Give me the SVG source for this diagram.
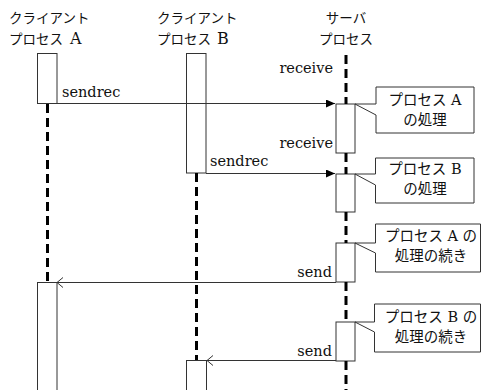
<svg xmlns="http://www.w3.org/2000/svg" width="481" height="390" viewBox="0 0 481 390">
<defs>
<style>
text{font-family:"DejaVu Serif","Noto Sans CJK JP",serif;fill:#111}
.h{font-size:13.5px}
.lat{font-size:16px}
.lbl{font-size:14.5px}
.n{font-size:14.5px}
.box{fill:none;stroke:#333;stroke-width:1}
.line{stroke:#333;stroke-width:1;fill:none}
.life{stroke:#000;stroke-width:3;stroke-dasharray:9 5;fill:none}
.note{fill:#fff;stroke:#333;stroke-width:1}
</style>
<marker id="fill" markerWidth="10" markerHeight="8" refX="9" refY="4" orient="auto" markerUnits="userSpaceOnUse">
<path d="M0,0 L9,4 L0,8 Z" fill="#000"/>
</marker>
<marker id="open" markerWidth="8" markerHeight="12" refX="7" refY="6" orient="auto" markerUnits="userSpaceOnUse">
<path d="M1,1 L7,6 L1,11" fill="none" stroke="#333" stroke-width="1"/>
</marker>
</defs>
<rect width="481" height="390" fill="#fff"/>

<g id="clientA">
<text class="h" x="9" y="23">クライアント</text>
<text class="h" x="9" y="44">プロセス<tspan class="lat" x="70">A</tspan></text>
<rect class="box" x="37.5" y="53.5" width="19.5" height="50"/>
<rect class="box" x="37.5" y="282.5" width="19.5" height="120"/>
</g>

<g id="clientB">
<text class="h" x="157" y="23">クライアント</text>
<text class="h" x="157" y="44">プロセス<tspan class="lat" x="217">B</tspan></text>
<rect class="box" x="186.5" y="53.5" width="19.5" height="119.5"/>
<rect class="box" x="186.5" y="360.5" width="20" height="40"/>
</g>

<g id="server">
<text class="h" x="346" y="23" text-anchor="middle">サーバ</text>
<text class="h" x="346" y="44" text-anchor="middle">プロセス</text>
<rect class="box" x="336" y="104" width="19" height="49"/>
<rect class="box" x="336" y="174" width="19" height="38"/>
<rect class="box" x="336" y="243" width="19" height="39"/>
<rect class="box" x="336" y="322" width="19" height="39"/>
</g>

<g id="noteA">
<path class="note" d="M376,87 H474 V133 H376 V115 L355,104 H376 Z"/>
<text class="n" x="425" y="105" text-anchor="middle">プロセス A</text>
<text class="n" x="425" y="125" text-anchor="middle">の処理</text>
</g>
<g id="noteB">
<path class="note" d="M375.5,158 H474 V203 H375.5 V185 L355,174 H375.5 Z"/>
<text class="n" x="425" y="174" text-anchor="middle">プロセス B</text>
<text class="n" x="425" y="194" text-anchor="middle">の処理</text>
</g>
<g id="noteA2">
<path class="note" d="M375.5,224 H480.5 V272 H375.5 V253 L355,243 H375.5 Z"/>
<text class="n" x="431" y="241" text-anchor="middle">プロセス A の</text>
<text class="n" x="431" y="261" text-anchor="middle">処理の続き</text>
</g>
<g id="noteB2">
<path class="note" d="M374.5,304 H480.5 V352 H374.5 V332 L355,322 H374.5 Z"/>
<text class="n" x="431" y="322" text-anchor="middle">プロセス B の</text>
<text class="n" x="431" y="342" text-anchor="middle">処理の続き</text>
</g>

<g id="connectors">
<path class="life" d="M47.5,104 V282"/>
<path class="life" d="M196.5,173 V360"/>
<path class="life" d="M346,55 V104 M346,153 V174 M346,212 V243 M346,282 V322 M346,361 V390"/>
<path class="line" d="M57,103.5 H335" marker-end="url(#fill)"/>
<path class="line" d="M206,173.5 H335" marker-end="url(#fill)"/>
<path class="line" d="M336,282.5 H57" marker-end="url(#open)"/>
<path class="line" d="M336,360.5 H207" marker-end="url(#open)"/>
<text class="lbl" x="62" y="97">sendrec</text>
<text class="lbl" x="210" y="166">sendrec</text>
<text class="lbl" x="333" y="73" text-anchor="end">receive</text>
<text class="lbl" x="333" y="148" text-anchor="end">receive</text>
<text class="lbl" x="332" y="277" text-anchor="end">send</text>
<text class="lbl" x="332" y="356" text-anchor="end">send</text>
</g>
</svg>
